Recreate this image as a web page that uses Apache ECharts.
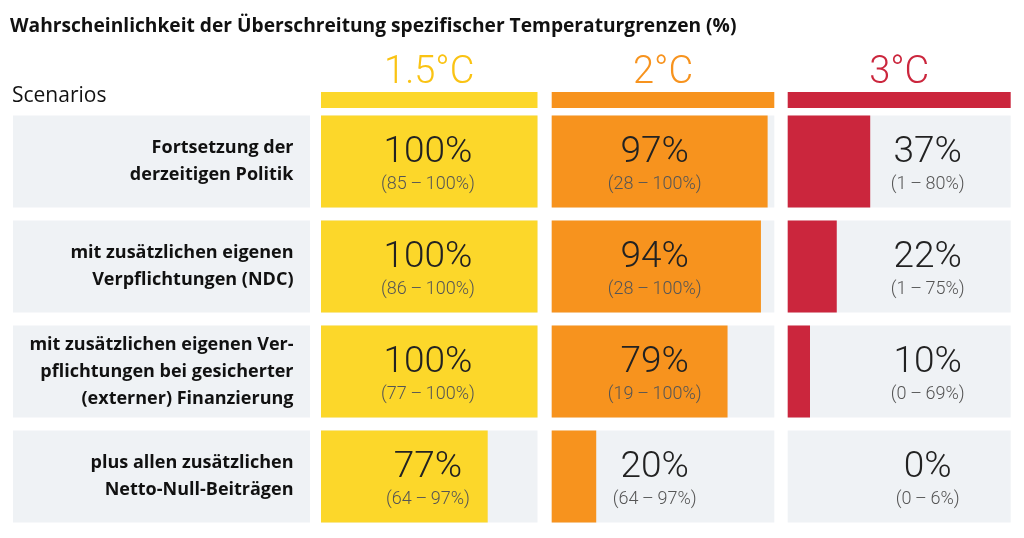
<!DOCTYPE html>
<html>
<head>
<meta charset="utf-8">
<script src="https://cdn.jsdelivr.net/npm/echarts@6/dist/echarts.min.js"></script>
<style>html,body{margin:0;padding:0;background:#fff}#c{width:1024px;height:538px}</style>
</head>
<body>
<div id="c"></div>
<script>
const titleText = 'Wahrscheinlichkeit der Überschreitung spezifischer Temperaturgrenzen (%)';
const scenarioHeader = 'Scenarios';
const scenarios = [
  'Fortsetzung der\nderzeitigen Politik',
  'mit zusätzlichen eigenen\nVerpflichtungen (NDC)',
  'mit zusätzlichen eigenen Ver-\npflichtungen bei gesicherter\n(externer) Finanzierung',
  'plus allen zusätzlichen\nNetto-Null-Beiträgen'
];
const thresholds = ['1.5°C', '2°C', '3°C'];
const prob15 = [100, 100, 100, 77];
const low15 = [85, 86, 77, 64];
const high15 = [100, 100, 100, 97];
const prob20 = [97, 94, 79, 20];
const low20 = [28, 28, 19, 64];
const high20 = [100, 100, 100, 97];
const prob30 = [37, 22, 10, 0];
const low30 = [1, 1, 0, 0];
const high30 = [80, 75, 69, 6];

const probs = [prob15, prob20, prob30];
const lows = [low15, low20, low30];
const highs = [high15, high20, high30];

const barColors = ['#FCD72A', '#F7931E', '#CB263D'];
const headColors = ['#FAC313', '#F7931E', '#CB263D'];
const bgGray = '#EFF2F5';
const gridTop = 109, gridH = 420, barW = 92;
const cols = [
  {left: 321, width: 216.5, dx: 107},
  {left: 551.7, width: 222.6, dx: 103},
  {left: 787.7, width: 223, dx: 140}
];

const grids = [{left: 13, width: 297, top: gridTop, height: gridH}];
const xAxes = [{gridIndex: 0, show: false, min: 0, max: 1}];
const yAxes = [{gridIndex: 0, type: 'category', data: scenarios, inverse: true, show: false}];
const series = [{
  type: 'bar', xAxisIndex: 0, yAxisIndex: 0, barWidth: barW,
  data: scenarios.map(() => 1),
  itemStyle: {color: bgGray},
  silent: true,
  label: {
    show: true, position: 'insideRight', distance: 16.5, align: 'right',
    formatter: p => scenarios[p.dataIndex],
    fontFamily: 'Open Sans', fontWeight: 'bold', fontSize: 18, lineHeight: 27, color: '#111'
  }
}];

cols.forEach((c, i) => {
  const gi = i + 1;
  grids.push({left: c.left, width: c.width, top: gridTop, height: gridH});
  xAxes.push({
    gridIndex: gi, type: 'value', min: 0, max: 100, position: 'top', offset: 9,
    axisLine: {show: true, lineStyle: {color: barColors[i], width: 16, cap: 'butt'}},
    axisTick: {show: false}, axisLabel: {show: false}, splitLine: {show: false},
    name: thresholds[i], nameLocation: 'middle', nameGap: 8,
    nameTextStyle: {fontFamily: 'Roboto', fontWeight: 300, fontSize: 38, color: headColors[i]}
  });
  yAxes.push({gridIndex: gi, type: 'category', data: scenarios, inverse: true, show: false});
  series.push({
    type: 'bar', xAxisIndex: gi, yAxisIndex: gi, barWidth: barW,
    data: probs[i], silent: true,
    itemStyle: {color: barColors[i]},
    showBackground: true, backgroundStyle: {color: bgGray}
  });
  series.push({
    type: 'bar', xAxisIndex: gi, yAxisIndex: gi, barWidth: barW, barGap: '-100%', z: 5,
    data: probs[i].map(() => 100), silent: true,
    itemStyle: {color: 'rgba(0,0,0,0)'},
    label: {
      show: true, position: [c.dx, '50%'], offset: [0, 3], align: 'center', verticalAlign: 'middle',
      formatter: p => '{v|' + probs[i][p.dataIndex] + '%}\n{r|(' + lows[i][p.dataIndex] + '\u2009\u2013\u2009' + highs[i][p.dataIndex] + '%)}',
      rich: {
        v: {fontFamily: 'Roboto', fontWeight: 300, fontSize: 37, lineHeight: 40, color: '#222', align: 'center'},
        r: {fontFamily: 'Roboto', fontWeight: 300, fontSize: 18, lineHeight: 24, color: '#555', align: 'center'}
      }
    }
  });
});

const chart = echarts.init(document.getElementById('c'), null, {renderer: 'canvas'});
chart.setOption({
  animation: false,
  backgroundColor: '#fff',
  title: [
    {text: titleText, left: 10, top: 17, padding: 0, textStyle: {fontFamily: 'Open Sans', fontWeight: 'bold', fontSize: 19.2, color: '#111'}},
    {text: scenarioHeader, left: 12, top: 86, padding: 0, textStyle: {fontFamily: 'Open Sans', fontWeight: 'normal', fontSize: 21, color: '#111'}}
  ],
  grid: grids, xAxis: xAxes, yAxis: yAxes, series: series
});
</script>
</body>
</html>
